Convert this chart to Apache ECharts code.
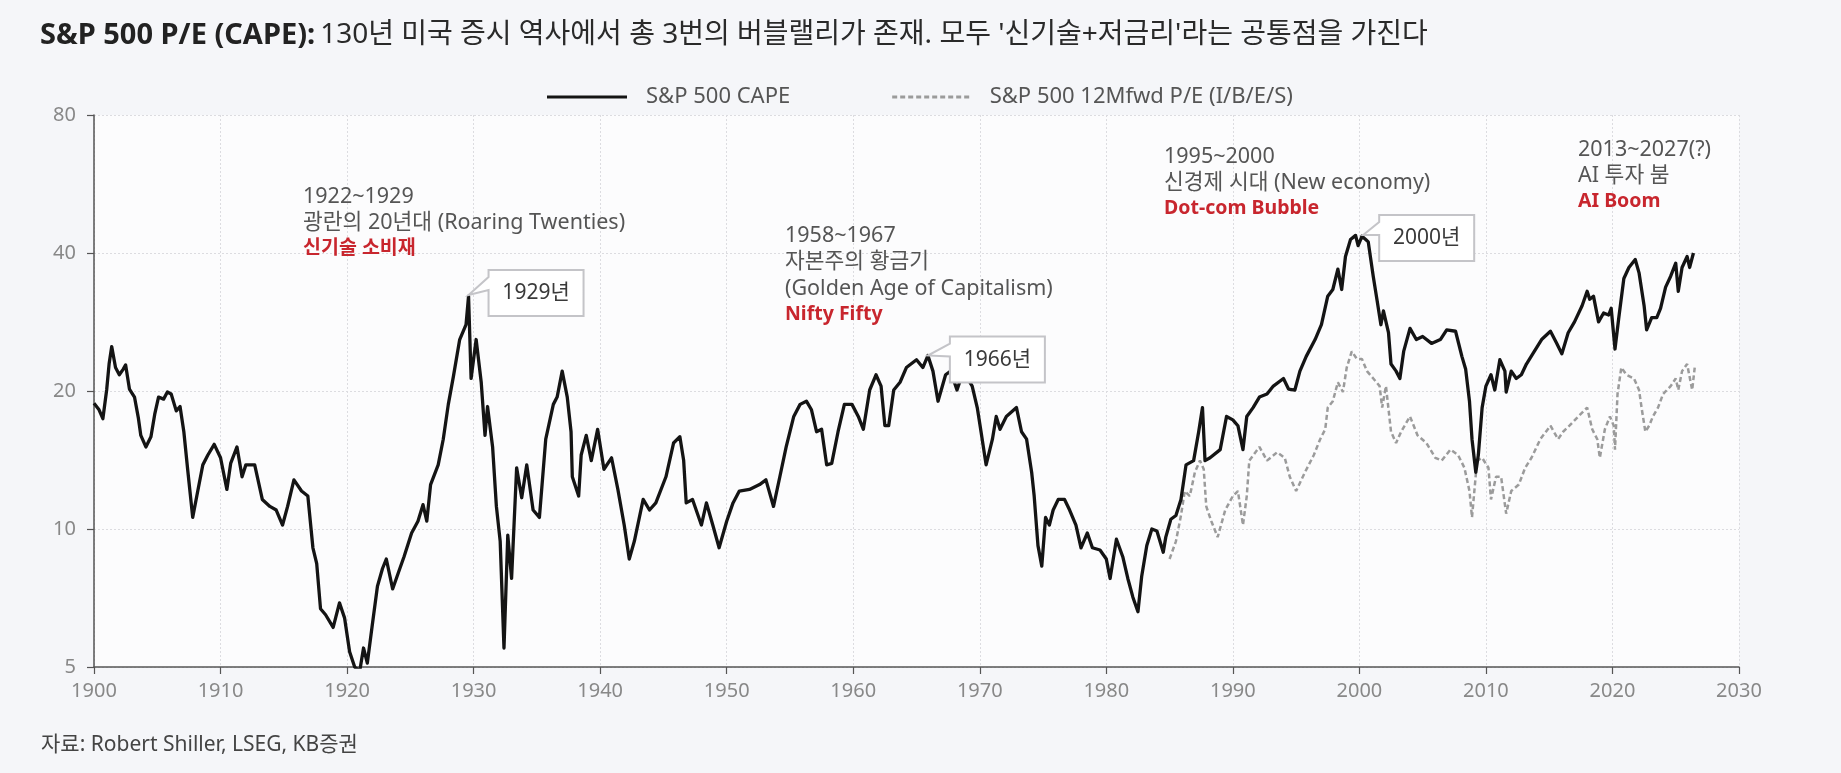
<!DOCTYPE html>
<html>
<head>
<meta charset="utf-8">
<script src="https://cdn.jsdelivr.net/npm/echarts@6/dist/echarts.min.js"></script>
<style>
html,body{margin:0;padding:0;background:#f5f6f9;}
#c{width:1841px;height:773px;}
</style>
</head>
<body>
<div id="c"></div>
<script>
// ---------------- DATA ----------------
const xTicks = [1900, 1910, 1920, 1930, 1940, 1950, 1960, 1970, 1980, 1990, 2000, 2010, 2020, 2030];
const yTickLabels = [5, 10, 20, 40, 80];
const seriesNames = ['S&P 500 CAPE', 'S&P 500 12Mfwd P/E (I/B/E/S)'];

// [year, value]
const capePoints = [
[1900.0,18.8],[1900.4,18.2],[1900.7,17.4],[1901.0,20.1],[1901.2,23.0],[1901.4,25.0],[1901.7,22.5],[1902.0,21.7],[1902.3,22.3],[1902.5,22.8],[1902.8,20.2],[1903.2,19.4],[1903.5,17.5],[1903.7,16.0],[1904.1,15.1],[1904.5,15.9],[1904.8,17.8],[1905.1,19.4],[1905.5,19.2],[1905.8,19.9],[1906.1,19.7],[1906.5,18.1],[1906.8,18.5],[1907.1,16.3],[1907.4,13.5],[1907.8,10.6],[1908.2,12.1],[1908.6,13.8],[1909.0,14.5],[1909.5,15.3],[1910.0,14.3],[1910.5,12.2],[1910.8,13.9],[1911.3,15.1],[1911.7,13.0],[1912.0,13.8],[1912.7,13.8],[1913.3,11.6],[1913.9,11.2],[1914.4,11.0],[1914.9,10.2],[1915.3,11.2],[1915.8,12.8],[1916.4,12.1],[1916.9,11.8],[1917.3,9.1],[1917.6,8.4],[1917.9,6.7],[1918.3,6.5],[1918.9,6.1],[1919.4,6.9],[1919.8,6.4],[1920.2,5.4],[1920.6,5.0],[1921.0,4.9],[1921.3,5.5],[1921.6,5.1],[1922.0,6.2],[1922.4,7.5],[1922.8,8.2],[1923.1,8.6],[1923.6,7.4],[1924.1,8.1],[1924.5,8.7],[1925.1,9.8],[1925.6,10.4],[1926.0,11.3],[1926.3,10.4],[1926.6,12.5],[1927.2,13.8],[1927.6,15.7],[1928.0,18.7],[1928.4,21.5],[1928.9,25.9],[1929.4,27.9],[1929.6,32.2],[1929.8,21.3],[1930.2,25.9],[1930.6,20.9],[1930.9,16.0],[1931.1,18.5],[1931.5,15.1],[1931.8,11.2],[1932.1,9.4],[1932.4,5.5],[1932.7,9.7],[1933.0,7.8],[1933.4,13.6],[1933.8,11.7],[1934.2,13.8],[1934.7,11.0],[1935.2,10.6],[1935.7,15.7],[1936.3,18.7],[1936.6,19.4],[1937.0,22.1],[1937.4,19.4],[1937.7,16.3],[1937.8,13.0],[1938.3,11.8],[1938.5,14.5],[1938.9,16.0],[1939.3,14.1],[1939.8,16.5],[1940.3,13.5],[1940.9,14.3],[1941.4,12.2],[1941.9,10.2],[1942.3,8.6],[1942.7,9.4],[1943.4,11.6],[1943.9,11.0],[1944.4,11.4],[1945.2,13.0],[1945.8,15.4],[1946.3,15.9],[1946.6,14.1],[1946.8,11.4],[1947.3,11.6],[1948.0,10.2],[1948.4,11.4],[1948.9,10.2],[1949.4,9.1],[1950.0,10.4],[1950.5,11.4],[1951.0,12.1],[1951.8,12.2],[1952.6,12.5],[1953.1,12.8],[1953.7,11.2],[1954.2,13.0],[1954.7,15.1],[1955.3,17.6],[1955.8,18.7],[1956.3,19.0],[1956.7,18.2],[1957.1,16.3],[1957.5,16.5],[1957.9,13.8],[1958.3,13.9],[1958.8,16.3],[1959.3,18.7],[1959.9,18.7],[1960.4,17.6],[1960.8,16.5],[1961.3,20.1],[1961.8,21.7],[1962.2,20.5],[1962.5,16.8],[1962.8,16.8],[1963.2,20.1],[1963.7,20.9],[1964.2,22.5],[1965.0,23.4],[1965.5,22.5],[1965.9,23.9],[1966.3,22.1],[1966.7,19.0],[1967.3,21.7],[1967.7,22.1],[1968.2,20.1],[1968.7,22.1],[1969.4,20.5],[1969.8,18.4],[1970.1,16.3],[1970.5,13.8],[1971.0,15.7],[1971.3,17.6],[1971.6,16.5],[1972.1,17.6],[1972.9,18.4],[1973.3,16.3],[1973.7,15.7],[1974.1,13.3],[1974.3,11.8],[1974.6,9.2],[1974.9,8.3],[1975.2,10.6],[1975.5,10.2],[1975.8,11.0],[1976.2,11.6],[1976.7,11.6],[1977.1,11.0],[1977.6,10.2],[1978.0,9.1],[1978.5,9.8],[1978.9,9.1],[1979.5,9.0],[1980.0,8.6],[1980.3,7.8],[1980.8,9.5],[1981.3,8.7],[1981.7,7.8],[1982.1,7.1],[1982.5,6.6],[1982.8,7.9],[1983.2,9.2],[1983.6,10.0],[1984.0,9.9],[1984.5,8.9],[1984.7,9.6],[1985.1,10.5],[1985.5,10.7],[1985.9,11.6],[1986.3,13.8],[1986.9,14.1],[1987.3,16.3],[1987.6,18.4],[1987.8,14.1],[1988.2,14.3],[1989.0,14.9],[1989.5,17.6],[1990.0,17.3],[1990.4,16.8],[1990.8,14.9],[1991.1,17.6],[1991.6,18.4],[1992.1,19.4],[1992.7,19.7],[1993.2,20.5],[1994.0,21.3],[1994.4,20.2],[1994.9,20.1],[1995.3,22.1],[1995.8,23.8],[1996.5,25.9],[1997.0,27.9],[1997.5,32.2],[1997.9,33.3],[1998.3,36.9],[1998.6,33.3],[1998.9,39.3],[1999.3,42.8],[1999.7,43.7],[1999.9,41.5],[2000.2,43.5],[2000.5,42.8],[2000.7,42.3],[2001.1,35.5],[2001.4,31.5],[2001.7,27.9],[2001.9,29.9],[2002.3,26.8],[2002.5,22.9],[2002.9,22.1],[2003.2,21.3],[2003.5,24.4],[2004.0,27.4],[2004.5,25.9],[2005.0,26.3],[2005.7,25.4],[2006.4,25.9],[2006.9,27.2],[2007.6,27.0],[2008.1,23.8],[2008.4,22.3],[2008.7,19.0],[2008.9,15.7],[2009.2,13.3],[2009.4,14.5],[2009.7,18.4],[2010.0,20.5],[2010.4,21.7],[2010.7,20.1],[2011.1,23.4],[2011.5,22.1],[2011.6,19.9],[2012.0,22.1],[2012.4,21.3],[2012.8,21.7],[2013.2,22.9],[2013.7,24.1],[2014.4,25.9],[2015.1,27.0],[2015.6,25.4],[2016.0,24.1],[2016.5,26.8],[2017.0,28.3],[2017.6,30.7],[2018.0,33.0],[2018.2,31.7],[2018.5,32.2],[2018.9,28.3],[2019.3,29.6],[2019.7,29.3],[2019.9,30.3],[2020.2,24.7],[2020.5,28.9],[2020.9,35.2],[2021.3,37.2],[2021.8,38.7],[2022.1,36.2],[2022.5,30.7],[2022.7,27.2],[2023.1,28.9],[2023.5,28.9],[2023.8,30.3],[2024.2,33.7],[2024.6,35.6],[2025.0,38.0],[2025.2,33.0],[2025.5,37.2],[2025.9,39.3],[2026.1,37.2],[2026.4,40.0]
];

const fwdPoints = [
[1985.0,8.6],[1985.5,9.4],[1985.9,10.7],[1986.2,12.1],[1986.6,11.8],[1987.0,13.3],[1987.4,14.1],[1987.7,13.5],[1987.9,11.2],[1988.3,10.4],[1988.8,9.6],[1989.4,11.0],[1990.0,11.8],[1990.4,12.1],[1990.8,10.2],[1991.1,11.8],[1991.3,14.1],[1992.1,15.1],[1992.7,14.1],[1993.5,14.7],[1994.1,14.3],[1994.5,13.0],[1995.0,12.1],[1995.7,13.3],[1996.4,14.5],[1996.9,15.7],[1997.3,16.5],[1997.5,18.4],[1997.9,19.0],[1998.3,20.9],[1998.7,19.9],[1999.0,22.5],[1999.4,24.4],[1999.8,23.5],[2000.2,23.5],[2000.6,22.1],[2001.1,21.3],[2001.6,20.5],[2001.8,18.4],[2002.1,20.5],[2002.5,16.3],[2002.9,15.4],[2003.3,16.3],[2004.0,17.6],[2004.6,16.0],[2005.3,15.4],[2006.0,14.3],[2006.5,14.1],[2007.2,14.9],[2007.8,14.5],[2008.3,13.6],[2008.7,12.1],[2008.9,10.6],[2009.3,14.1],[2009.7,14.3],[2010.2,13.6],[2010.4,11.6],[2010.8,13.0],[2011.2,13.0],[2011.6,10.8],[2012.0,12.1],[2012.6,12.5],[2013.1,13.6],[2013.6,14.3],[2014.3,15.7],[2015.1,16.8],[2015.7,15.7],[2016.1,16.3],[2016.6,16.8],[2017.3,17.6],[2018.0,18.4],[2018.4,16.5],[2018.8,15.7],[2019.0,14.3],[2019.4,16.5],[2019.8,17.6],[2020.1,16.8],[2020.2,14.9],[2020.4,19.7],[2020.7,22.5],[2021.1,21.7],[2021.7,21.3],[2022.1,20.1],[2022.3,18.4],[2022.6,16.3],[2022.9,16.8],[2023.2,17.6],[2023.6,18.4],[2024.0,19.7],[2024.6,20.5],[2025.0,21.3],[2025.2,20.1],[2025.5,22.1],[2025.9,22.9],[2026.3,20.1],[2026.5,22.5]
];

const titleBold = 'S&P 500 P/E (CAPE):';
const titleRest = "130년 미국 증시 역사에서 총 3번의 버블랠리가 존재. 모두 '신기술+저금리'라는 공통점을 가진다";
const sourceText = '자료: Robert Shiller, LSEG, KB증권';

const eraNotes = [
  { lines: ['1922~1929', '광란의 20년대 (Roaring Twenties)'], red: '신기술 소비재' },
  { lines: ['1958~1967', '자본주의 황금기', '(Golden Age of Capitalism)'], red: 'Nifty Fifty' },
  { lines: ['1995~2000', '신경제 시대 (New economy)'], red: 'Dot-com Bubble' },
  { lines: ['2013~2027(?)', 'AI 투자 붐'], red: 'AI Boom' }
];
const calloutLabels = ['1929년', '1966년', '2000년'];
const calloutPoints = [[1929.6, 32.4], [1965.9, 23.9], [2000.3, 43.8]];

// ---------------- LAYOUT / STYLE ----------------
const FONT = "'Noto Sans', 'Noto Sans CJK KR', sans-serif";
const BASE = yTickLabels[0];
const toLog = v => Math.log2(v / BASE);
const notePos = [[303, 186], [785, 225], [1164, 146], [1578, 139]];
const calloutOffset = [[20, -25], [22, -19], [16, -20]];

// legend icons: solid bar and dashed bar
const solidIcon = 'path://M0,0H80V3H0Z';
let dashPath = 'path://';
for (let i = 0; i < 80; i += 8) dashPath += 'M' + i + ',0H' + (i + 5) + 'V3H' + i + 'Z';

const chart = echarts.init(document.getElementById('c'), null, { renderer: 'canvas' });

const option = {
  animation: false,
  backgroundColor: '#f5f6f9',
  title: {
    left: 35, top: 16,
    text: '{b|' + titleBold + '} {n|' + titleRest + '}',
    textStyle: {
      rich: {
        b: { fontSize: 29, fontWeight: 'bold', color: '#222', fontFamily: FONT },
        n: { fontSize: 28, fontWeight: 'normal', color: '#2a2a2a', fontFamily: FONT }
      }
    }
  },
  legend: {
    left: 542, top: 81,
    itemWidth: 80, itemHeight: 3, itemGap: 102,
    textStyle: { fontSize: 22, color: '#555', fontFamily: FONT, padding: [0, 0, 0, 14] },
    data: [
      { name: seriesNames[0], icon: solidIcon, itemStyle: { color: '#141414' } },
      { name: seriesNames[1], icon: dashPath, itemStyle: { color: '#9b9b9b' } }
    ]
  },
  grid: {
    left: 94, right: 102, top: 115, bottom: 106,
    show: true, backgroundColor: '#fcfcfd', borderWidth: 0
  },
  xAxis: {
    type: 'value', min: xTicks[0], max: xTicks[xTicks.length - 1], interval: 10,
    axisLine: { lineStyle: { color: '#555', width: 1.5 } },
    axisTick: { show: true, length: 7, lineStyle: { color: '#555', width: 1.2 } },
    axisLabel: { color: '#888', fontSize: 20, fontFamily: FONT, margin: 14, formatter: v => String(v) },
    splitLine: { show: true, lineStyle: { color: '#dcdce0', width: 1, type: [2, 2] } }
  },
  yAxis: {
    type: 'value', min: 0, max: toLog(yTickLabels[yTickLabels.length - 1]), interval: 1,
    axisLine: { show: true, lineStyle: { color: '#555', width: 1.5 } },
    axisTick: { show: true, length: 7, lineStyle: { color: '#555', width: 1.2 } },
    axisLabel: { color: '#888', fontSize: 20, fontFamily: FONT, margin: 18,
      formatter: v => String(Math.round(BASE * Math.pow(2, v))) },
    splitLine: { show: true, lineStyle: { color: '#dcdce0', width: 1, type: [2, 2] } }
  },
  series: [
    {
      name: seriesNames[1], type: 'line', symbol: 'none', z: 2,
      data: fwdPoints.map(p => [p[0], toLog(p[1])]),
      lineStyle: { color: '#9b9b9b', width: 2.5, type: [5, 3] },
      itemStyle: { color: '#9b9b9b' }
    },
    {
      name: seriesNames[0], type: 'line', symbol: 'none', z: 3,
      data: capePoints.map(p => [p[0], toLog(p[1])]),
      lineStyle: { color: '#141414', width: 3.3, join: 'round' },
      itemStyle: { color: '#141414' }
    }
  ]
};
chart.setOption(option);

// annotations
const elements = [];
eraNotes.forEach((n, i) => {
  const [lx, ty] = notePos[i];
  const all = n.lines.map(t => ({ t, red: false })).concat([{ t: n.red, red: true }]);
  all.forEach((ln, j) => {
    elements.push({
      type: 'text', x: lx, y: ty + j * 26.5, z: 20,
      style: {
        text: ln.t, fill: ln.red ? '#c8262e' : '#555',
        font: ln.red ? ('bold 19.5px ' + FONT) : ('21.5px ' + FONT),
        verticalAlign: 'top', align: 'left'
      }
    });
  });
});
calloutLabels.forEach((lab, i) => {
  const pt = calloutPoints[i];
  const p = chart.convertToPixel({ gridIndex: 0 }, [pt[0], toLog(pt[1])]);
  const L = p[0] + calloutOffset[i][0], T = p[1] + calloutOffset[i][1], W = 95, H = 46;
  elements.push({
    type: 'polygon', z: 30,
    shape: { points: [[L, T], [L + W, T], [L + W, T + H], [L, T + H], [L, T + 20], [p[0], p[1]], [L, T + 7]] },
    style: { fill: '#ffffff', stroke: '#c4c4c8', lineWidth: 2, lineJoin: 'miter' }
  });
  elements.push({
    type: 'text', x: L + W / 2, y: T + H / 2, z: 31,
    style: { text: lab, fill: '#3a3a3a', font: '21px ' + FONT, align: 'center', verticalAlign: 'middle' }
  });
});
elements.push({
  type: 'text', x: 41, y: 745, z: 20,
  style: { text: sourceText, fill: '#444', font: '21px ' + FONT, verticalAlign: 'middle', align: 'left' }
});
chart.setOption({ graphic: { elements: elements } });
</script>
</body>
</html>
